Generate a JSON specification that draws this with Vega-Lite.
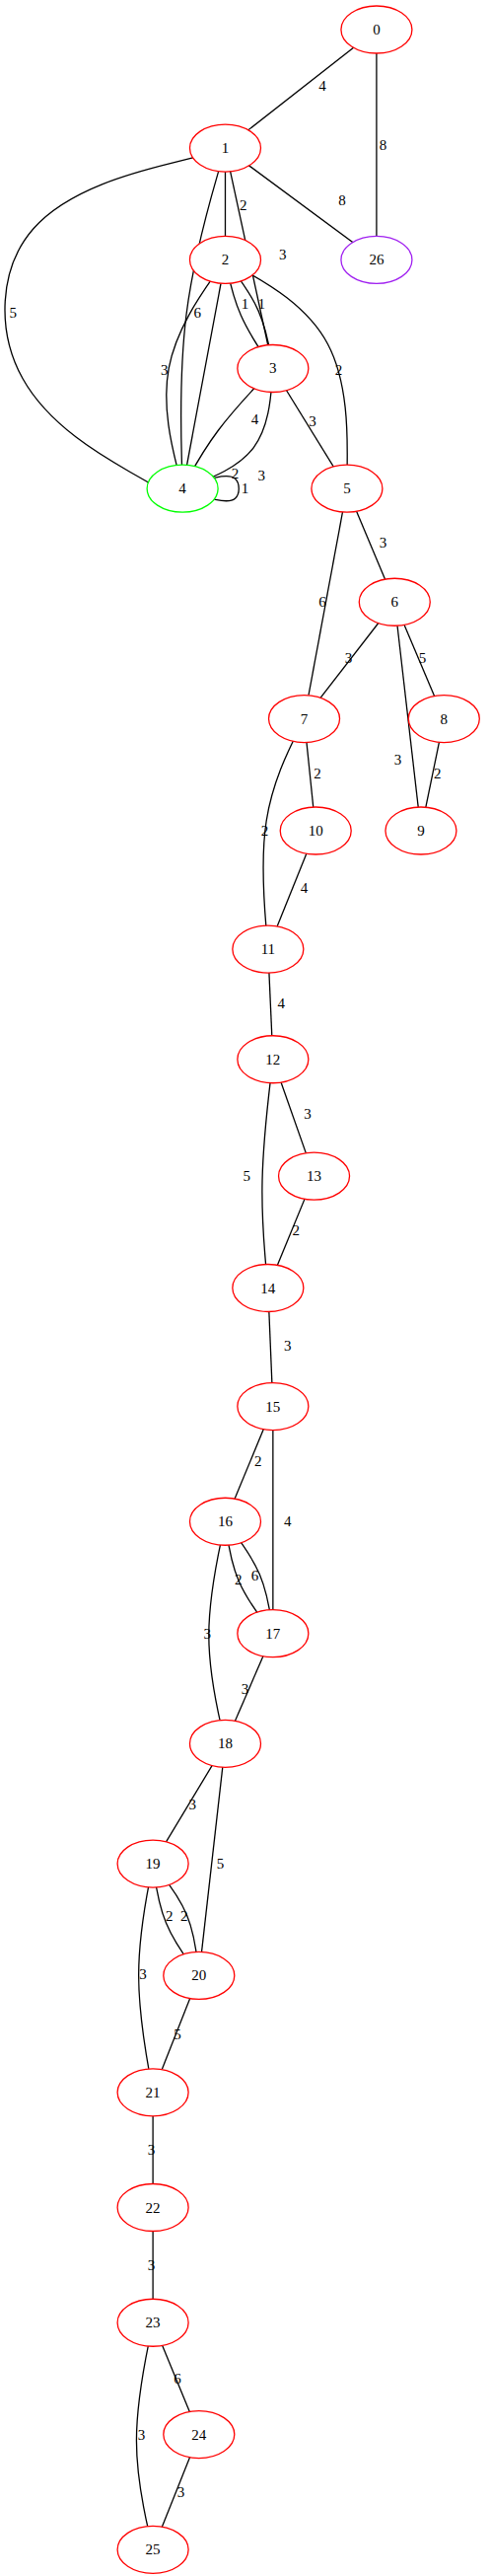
{
  "$schema": "https://vega.github.io/schema/vega-lite/v6.json",
  "autosize": {"type": "fit", "contains": "padding"},
  "width": 497,
  "height": 2611,
  "padding": 0,
  "background": "white",
  "config": {"view": {"stroke": null}},
  "datasets": {
    "nodes": [
      {"id": "0", "x": 229, "y": 18, "c": "red"},
      {"id": "1", "x": 137, "y": 90, "c": "red"},
      {"id": "2", "x": 137, "y": 158, "c": "red"},
      {"id": "3", "x": 166, "y": 224, "c": "red"},
      {"id": "4", "x": 111, "y": 297, "c": "green"},
      {"id": "5", "x": 211, "y": 297, "c": "red"},
      {"id": "6", "x": 240, "y": 366, "c": "red"},
      {"id": "7", "x": 185, "y": 437, "c": "red"},
      {"id": "8", "x": 270, "y": 437, "c": "red"},
      {"id": "9", "x": 256, "y": 505, "c": "red"},
      {"id": "10", "x": 192, "y": 505, "c": "red"},
      {"id": "11", "x": 163, "y": 577, "c": "red"},
      {"id": "12", "x": 166, "y": 644, "c": "red"},
      {"id": "13", "x": 191, "y": 715, "c": "red"},
      {"id": "14", "x": 163, "y": 783, "c": "red"},
      {"id": "15", "x": 166, "y": 855, "c": "red"},
      {"id": "16", "x": 137, "y": 925, "c": "red"},
      {"id": "17", "x": 166, "y": 993, "c": "red"},
      {"id": "18", "x": 137, "y": 1060, "c": "red"},
      {"id": "19", "x": 93, "y": 1133, "c": "red"},
      {"id": "20", "x": 121, "y": 1201, "c": "red"},
      {"id": "21", "x": 93, "y": 1272, "c": "red"},
      {"id": "22", "x": 93, "y": 1342, "c": "red"},
      {"id": "23", "x": 93, "y": 1412, "c": "red"},
      {"id": "24", "x": 121, "y": 1480, "c": "red"},
      {"id": "25", "x": 93, "y": 1550, "c": "red"},
      {"id": "26", "x": 229, "y": 158, "c": "purple"}
    ],
    "edges": [
      {"e": "0-1", "o": 0, "x": 229, "y": 18}, {"e": "0-1", "o": 1, "x": 137, "y": 90},
      {"e": "0-26", "o": 0, "x": 229, "y": 18}, {"e": "0-26", "o": 1, "x": 229, "y": 158},
      {"e": "1-2", "o": 0, "x": 137, "y": 90}, {"e": "1-2", "o": 1, "x": 137, "y": 158},
      {"e": "1-3", "o": 0, "x": 137, "y": 90}, {"e": "1-3", "o": 1, "x": 166, "y": 224},
      {"e": "1-26", "o": 0, "x": 137, "y": 90}, {"e": "1-26", "o": 1, "x": 229, "y": 158},
      {"e": "1-4a", "o": 0, "x": 137, "y": 90}, {"e": "1-4a", "o": 1, "x": 108, "y": 190}, {"e": "1-4a", "o": 2, "x": 111, "y": 297},
      {"e": "1-4b", "o": 0, "x": 125, "y": 94}, {"e": "1-4b", "o": 1, "x": 0, "y": 125}, {"e": "1-4b", "o": 2, "x": -3, "y": 240}, {"e": "1-4b", "o": 3, "x": 95, "y": 296},
      {"e": "2-3a", "o": 0, "x": 137, "y": 158}, {"e": "2-3a", "o": 1, "x": 144, "y": 192}, {"e": "2-3a", "o": 2, "x": 166, "y": 224},
      {"e": "2-3b", "o": 0, "x": 137, "y": 158}, {"e": "2-3b", "o": 1, "x": 160, "y": 188}, {"e": "2-3b", "o": 2, "x": 166, "y": 224},
      {"e": "2-4a", "o": 0, "x": 137, "y": 158}, {"e": "2-4a", "o": 1, "x": 92, "y": 222}, {"e": "2-4a", "o": 2, "x": 111, "y": 297},
      {"e": "2-4b", "o": 0, "x": 137, "y": 158}, {"e": "2-4b", "o": 1, "x": 111, "y": 297},
      {"e": "2-5", "o": 0, "x": 137, "y": 158}, {"e": "2-5", "o": 1, "x": 212, "y": 200}, {"e": "2-5", "o": 2, "x": 211, "y": 297},
      {"e": "3-4a", "o": 0, "x": 166, "y": 224}, {"e": "3-4a", "o": 1, "x": 130, "y": 262}, {"e": "3-4a", "o": 2, "x": 111, "y": 297},
      {"e": "3-4b", "o": 0, "x": 166, "y": 224}, {"e": "3-4b", "o": 1, "x": 162, "y": 278}, {"e": "3-4b", "o": 2, "x": 111, "y": 297},
      {"e": "3-5", "o": 0, "x": 166, "y": 224}, {"e": "3-5", "o": 1, "x": 211, "y": 297},
      {"e": "4-4", "o": 0, "x": 128, "y": 291}, {"e": "4-4", "o": 1, "x": 146, "y": 287}, {"e": "4-4", "o": 2, "x": 146, "y": 307}, {"e": "4-4", "o": 3, "x": 128, "y": 303},
      {"e": "5-6", "o": 0, "x": 211, "y": 297}, {"e": "5-6", "o": 1, "x": 240, "y": 366},
      {"e": "5-7", "o": 0, "x": 211, "y": 297}, {"e": "5-7", "o": 1, "x": 185, "y": 437},
      {"e": "6-7", "o": 0, "x": 240, "y": 366}, {"e": "6-7", "o": 1, "x": 185, "y": 437},
      {"e": "6-8", "o": 0, "x": 240, "y": 366}, {"e": "6-8", "o": 1, "x": 270, "y": 437},
      {"e": "6-9", "o": 0, "x": 240, "y": 366}, {"e": "6-9", "o": 1, "x": 256, "y": 505},
      {"e": "7-10", "o": 0, "x": 185, "y": 437}, {"e": "7-10", "o": 1, "x": 192, "y": 505},
      {"e": "7-11", "o": 0, "x": 185, "y": 437}, {"e": "7-11", "o": 1, "x": 156, "y": 495}, {"e": "7-11", "o": 2, "x": 163, "y": 577},
      {"e": "8-9", "o": 0, "x": 270, "y": 437}, {"e": "8-9", "o": 1, "x": 256, "y": 505},
      {"e": "10-11", "o": 0, "x": 192, "y": 505}, {"e": "10-11", "o": 1, "x": 163, "y": 577},
      {"e": "11-12", "o": 0, "x": 163, "y": 577}, {"e": "11-12", "o": 1, "x": 166, "y": 644},
      {"e": "12-13", "o": 0, "x": 166, "y": 644}, {"e": "12-13", "o": 1, "x": 191, "y": 715},
      {"e": "12-14", "o": 0, "x": 166, "y": 644}, {"e": "12-14", "o": 1, "x": 157, "y": 720}, {"e": "12-14", "o": 2, "x": 163, "y": 783},
      {"e": "13-14", "o": 0, "x": 191, "y": 715}, {"e": "13-14", "o": 1, "x": 163, "y": 783},
      {"e": "14-15", "o": 0, "x": 163, "y": 783}, {"e": "14-15", "o": 1, "x": 166, "y": 855},
      {"e": "15-16", "o": 0, "x": 166, "y": 855}, {"e": "15-16", "o": 1, "x": 137, "y": 925},
      {"e": "15-17", "o": 0, "x": 166, "y": 855}, {"e": "15-17", "o": 1, "x": 166, "y": 993},
      {"e": "16-17a", "o": 0, "x": 137, "y": 925}, {"e": "16-17a", "o": 1, "x": 142, "y": 962}, {"e": "16-17a", "o": 2, "x": 166, "y": 993},
      {"e": "16-17b", "o": 0, "x": 137, "y": 925}, {"e": "16-17b", "o": 1, "x": 161, "y": 956}, {"e": "16-17b", "o": 2, "x": 166, "y": 993},
      {"e": "16-18", "o": 0, "x": 137, "y": 925}, {"e": "16-18", "o": 1, "x": 122, "y": 995}, {"e": "16-18", "o": 2, "x": 137, "y": 1060},
      {"e": "17-18", "o": 0, "x": 166, "y": 993}, {"e": "17-18", "o": 1, "x": 137, "y": 1060},
      {"e": "18-19", "o": 0, "x": 137, "y": 1060}, {"e": "18-19", "o": 1, "x": 93, "y": 1133},
      {"e": "18-20", "o": 0, "x": 137, "y": 1060}, {"e": "18-20", "o": 1, "x": 121, "y": 1201},
      {"e": "19-20a", "o": 0, "x": 93, "y": 1133}, {"e": "19-20a", "o": 1, "x": 98, "y": 1170}, {"e": "19-20a", "o": 2, "x": 121, "y": 1201},
      {"e": "19-20b", "o": 0, "x": 93, "y": 1133}, {"e": "19-20b", "o": 1, "x": 117, "y": 1163}, {"e": "19-20b", "o": 2, "x": 121, "y": 1201},
      {"e": "19-21", "o": 0, "x": 93, "y": 1133}, {"e": "19-21", "o": 1, "x": 80, "y": 1200}, {"e": "19-21", "o": 2, "x": 93, "y": 1272},
      {"e": "20-21", "o": 0, "x": 121, "y": 1201}, {"e": "20-21", "o": 1, "x": 93, "y": 1272},
      {"e": "21-22", "o": 0, "x": 93, "y": 1272}, {"e": "21-22", "o": 1, "x": 93, "y": 1342},
      {"e": "22-23", "o": 0, "x": 93, "y": 1342}, {"e": "22-23", "o": 1, "x": 93, "y": 1412},
      {"e": "23-24", "o": 0, "x": 93, "y": 1412}, {"e": "23-24", "o": 1, "x": 121, "y": 1480},
      {"e": "23-25", "o": 0, "x": 93, "y": 1412}, {"e": "23-25", "o": 1, "x": 78, "y": 1485}, {"e": "23-25", "o": 2, "x": 93, "y": 1550},
      {"e": "24-25", "o": 0, "x": 121, "y": 1480}, {"e": "24-25", "o": 1, "x": 93, "y": 1550}
    ],
    "labels": [
      {"t": "4", "x": 196, "y": 52}, {"t": "8", "x": 233, "y": 88}, {"t": "2", "x": 148, "y": 125},
      {"t": "3", "x": 172, "y": 155}, {"t": "8", "x": 208, "y": 122}, {"t": "6", "x": 120, "y": 190},
      {"t": "5", "x": 8, "y": 190}, {"t": "1", "x": 149, "y": 185}, {"t": "1", "x": 159, "y": 185},
      {"t": "3", "x": 100, "y": 225}, {"t": "4", "x": 155, "y": 255}, {"t": "2", "x": 206, "y": 225},
      {"t": "2", "x": 143, "y": 288}, {"t": "3", "x": 159, "y": 289}, {"t": "3", "x": 190, "y": 256},
      {"t": "1", "x": 149, "y": 297}, {"t": "3", "x": 233, "y": 330}, {"t": "6", "x": 196, "y": 366},
      {"t": "3", "x": 212, "y": 400}, {"t": "5", "x": 257, "y": 400}, {"t": "3", "x": 242, "y": 462},
      {"t": "2", "x": 193, "y": 470}, {"t": "2", "x": 161, "y": 505}, {"t": "2", "x": 266, "y": 470},
      {"t": "4", "x": 185, "y": 540}, {"t": "4", "x": 171, "y": 610}, {"t": "3", "x": 187, "y": 677},
      {"t": "5", "x": 150, "y": 715}, {"t": "2", "x": 180, "y": 748}, {"t": "3", "x": 175, "y": 818},
      {"t": "2", "x": 157, "y": 888}, {"t": "4", "x": 175, "y": 925}, {"t": "2", "x": 145, "y": 960},
      {"t": "6", "x": 155, "y": 958}, {"t": "3", "x": 126, "y": 993}, {"t": "3", "x": 149, "y": 1027},
      {"t": "3", "x": 117, "y": 1097}, {"t": "5", "x": 134, "y": 1133}, {"t": "2", "x": 103, "y": 1165},
      {"t": "2", "x": 112, "y": 1165}, {"t": "3", "x": 87, "y": 1200}, {"t": "5", "x": 108, "y": 1237},
      {"t": "3", "x": 92, "y": 1307}, {"t": "3", "x": 92, "y": 1377}, {"t": "6", "x": 108, "y": 1446},
      {"t": "3", "x": 86, "y": 1480}, {"t": "3", "x": 110, "y": 1515}
    ]
  },
  "encoding": {
    "x": {"field": "x", "type": "quantitative", "scale": {"domain": [0, 298], "nice": false, "zero": false}, "axis": null},
    "y": {"field": "y", "type": "quantitative", "scale": {"domain": [1566, 0], "nice": false, "zero": false}, "axis": null}
  },
  "layer": [
    {
      "data": {"name": "edges"},
      "mark": {"type": "line", "color": "black", "strokeWidth": 1.3, "interpolate": "basis"},
      "encoding": {
        "detail": {"field": "e"},
        "order": {"field": "o", "type": "quantitative"}
      }
    },
    {
      "data": {"name": "nodes"},
      "mark": {"type": "point", "shape": "M-1.5,0 A1.5,1 0 1 1 1.5,0 A1.5,1 0 1 1 -1.5,0", "size": 2304, "filled": false, "fill": "white", "fillOpacity": 1, "strokeWidth": 1.3, "opacity": 1},
      "encoding": {
        "stroke": {"field": "c", "type": "nominal", "scale": {"domain": ["red", "green", "purple"], "range": ["#ff0000", "#00ff00", "#a020f0"]}, "legend": null}
      }
    },
    {
      "data": {"name": "nodes"},
      "mark": {"type": "text", "font": "Liberation Serif", "fontSize": 15, "baseline": "middle"},
      "encoding": {"text": {"field": "id"}}
    },
    {
      "data": {"name": "labels"},
      "mark": {"type": "text", "font": "Liberation Serif", "fontSize": 15, "baseline": "middle"},
      "encoding": {"text": {"field": "t"}}
    }
  ]
}
